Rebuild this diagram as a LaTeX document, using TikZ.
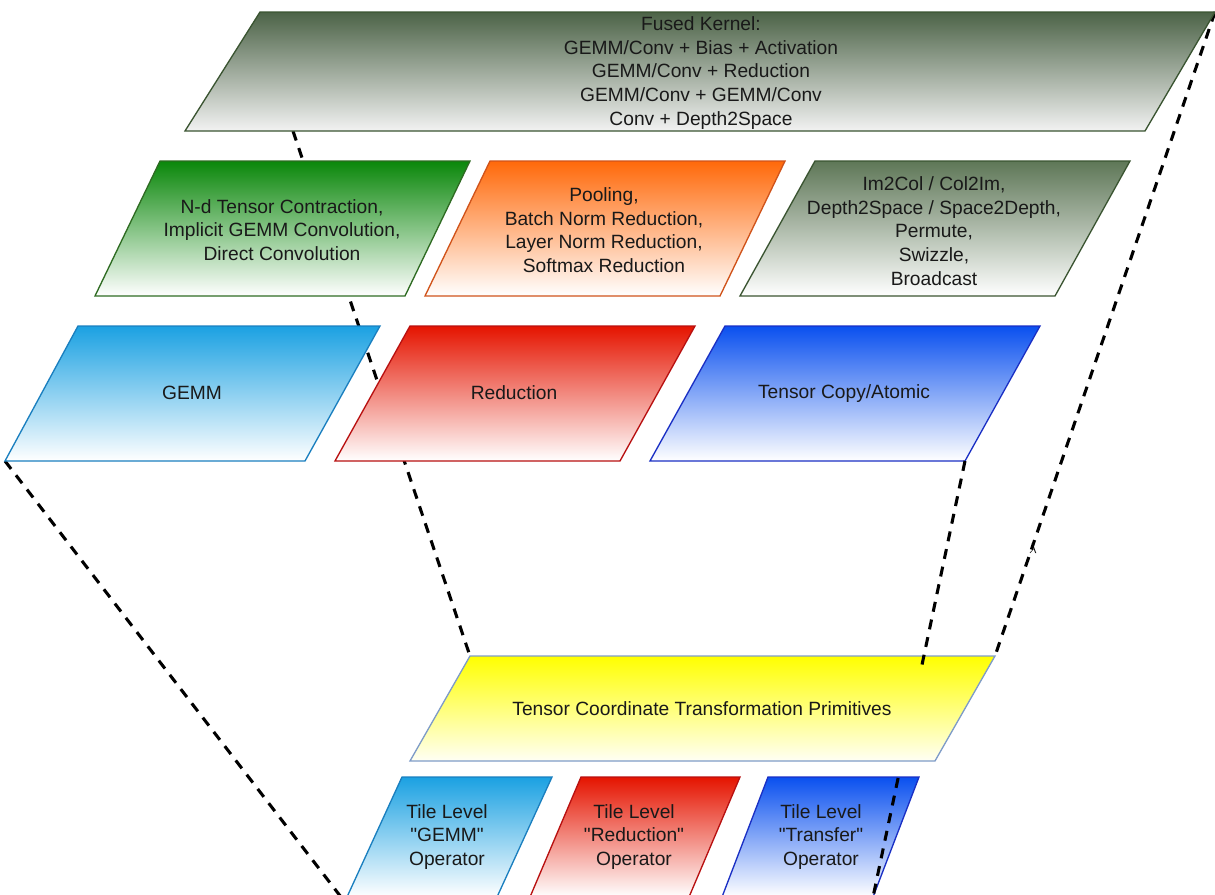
\documentclass[tikz,border=0pt]{standalone}
\usepackage{fontspec}
\setmainfont{Liberation Sans}[Ligatures=TeXOff]
\definecolor{fusedfill}{HTML}{4C6347}
\definecolor{fusedline}{HTML}{3A5431}
\definecolor{greenfill}{HTML}{0A870A}
\definecolor{greenline}{HTML}{2E6B22}
\definecolor{orangefill}{HTML}{FF690A}
\definecolor{orangeline}{HTML}{D0531A}
\definecolor{grayfill}{HTML}{5E7757}
\definecolor{cyanfill}{HTML}{1BA1E2}
\definecolor{cyanline}{HTML}{1A7FBF}
\definecolor{redfill}{HTML}{E51400}
\definecolor{redline}{HTML}{B81010}
\definecolor{bluefill}{HTML}{0A50EF}
\definecolor{blueline}{HTML}{1A2FC4}
\definecolor{yellowfill}{HTML}{FFFF00}
\definecolor{yellowline}{HTML}{7F9CC8}
\begin{document}
\begin{tikzpicture}[x=0.75pt,y=-0.75pt,
  lbl/.style={align=center, inner sep=0pt, text=black!90, font=\fontsize{14.4}{17.8}\selectfont},
  dashline/.style={line width=2.3pt, dash pattern=on 7.5pt off 6pt, black},
  pbox/.style={line width=1pt}]
\useasboundingbox (0,0) rectangle (1215,894);

% corner coordinates used by connectors
\coordinate (fusedB) at (293,131);
\coordinate (fusedTR) at (1215,12);
\coordinate (gemmBL) at (5,461);
\coordinate (copyBR) at (965,461);
\coordinate (yelTL) at (470,656);
\coordinate (yelTR) at (995,656);
\coordinate (tgemmBL) at (341,897);
\coordinate (ttransBR) at (873,897);

% connectors behind boxes
\draw[dashline] (fusedB) -- (yelTL);
\draw[dashline] (fusedTR) -- (yelTR);
\draw[dashline] (gemmBL) -- (tgemmBL);

% top fused box
\path[pbox, draw=fusedline, top color=fusedfill, bottom color=white!95!black]
  (260,12) -- (1215,12) -- (1145,131) -- (185,131) -- cycle;
\node[lbl] (fused) at (701,73) {Fused Kernel:\\GEMM/Conv + Bias + Activation\\GEMM/Conv + Reduction\\GEMM/Conv + GEMM/Conv\\Conv + Depth2Space};

% second row
\path[pbox, draw=greenline, top color=greenfill, bottom color=white]
  (160,161) -- (470,161) -- (405,296) -- (95,296) -- cycle;
\node[lbl] (contr) at (282,230) {N-d Tensor Contraction,\\Implicit GEMM Convolution,\\Direct Convolution};

\path[pbox, draw=orangeline, top color=orangefill, bottom color=white]
  (490,161) -- (785,161) -- (720,296) -- (425,296) -- cycle;
\node[lbl] (pool) at (604,230) {Pooling,\\Batch Norm Reduction,\\Layer Norm Reduction,\\Softmax Reduction};

\path[pbox, draw=fusedline, top color=grayfill, bottom color=white]
  (815,161) -- (1130,161) -- (1055,296) -- (740,296) -- cycle;
\node[lbl] (im2col) at (934,231) {Im2Col / Col2Im,\\Depth2Space / Space2Depth,\\Permute,\\Swizzle,\\Broadcast};

% third row
\path[pbox, draw=cyanline, top color=cyanfill, bottom color=white]
  (78,326) -- (380,326) -- (305,461) -- (5,461) -- cycle;
\node[lbl] (gemm) at (192,393) {GEMM};

\path[pbox, draw=redline, top color=redfill, bottom color=white]
  (410,326) -- (695,326) -- (620,461) -- (335,461) -- cycle;
\node[lbl] (red) at (514,393) {Reduction};

\path[pbox, draw=blueline, top color=bluefill, bottom color=white]
  (725,326) -- (1040,326) -- (965,461) -- (650,461) -- cycle;
\node[lbl] (copy) at (844,394) {Tensor Copy/Atomic};

% tile level boxes
\path[pbox, draw=cyanline, top color=cyanfill, bottom color=white]
  (402,777) -- (552,777) -- (497,897) -- (347,897) -- cycle;
\node[lbl] (tgemm) at (447,837) {Tile Level\\"GEMM"\\Operator};

\path[pbox, draw=redline, top color=redfill, bottom color=white]
  (581,777) -- (740,777) -- (689,897) -- (530,897) -- cycle;
\node[lbl] (tred) at (634,837) {Tile Level\\"Reduction"\\Operator};

\path[pbox, draw=blueline, top color=bluefill, bottom color=white]
  (768,777) -- (919,777) -- (873,897) -- (722,897) -- cycle;
\node[lbl] (ttrans) at (821,837) {Tile Level\\"Transfer"\\Operator};

% yellow box
\path[pbox, draw=yellowline, top color=yellowfill, bottom color=yellow!4]
  (470,656) -- (995,656) -- (935,761) -- (410,761) -- cycle;
\node[lbl] (tctp) at (702,709) {Tensor Coordinate Transformation Primitives};

% connector from Tensor Copy to the Transfer tile, hidden inside the yellow box
\begin{scope}
  \clip (0,0) rectangle (1215,668) (0,772) rectangle (1215,900);
  \draw[dashline] (copyBR) -- (ttransBR);
\end{scope}

\node[inner sep=0pt, font=\fontsize{10}{10}\selectfont] (lam) at (1033,549) {$\lambda$};
\end{tikzpicture}
\end{document}
